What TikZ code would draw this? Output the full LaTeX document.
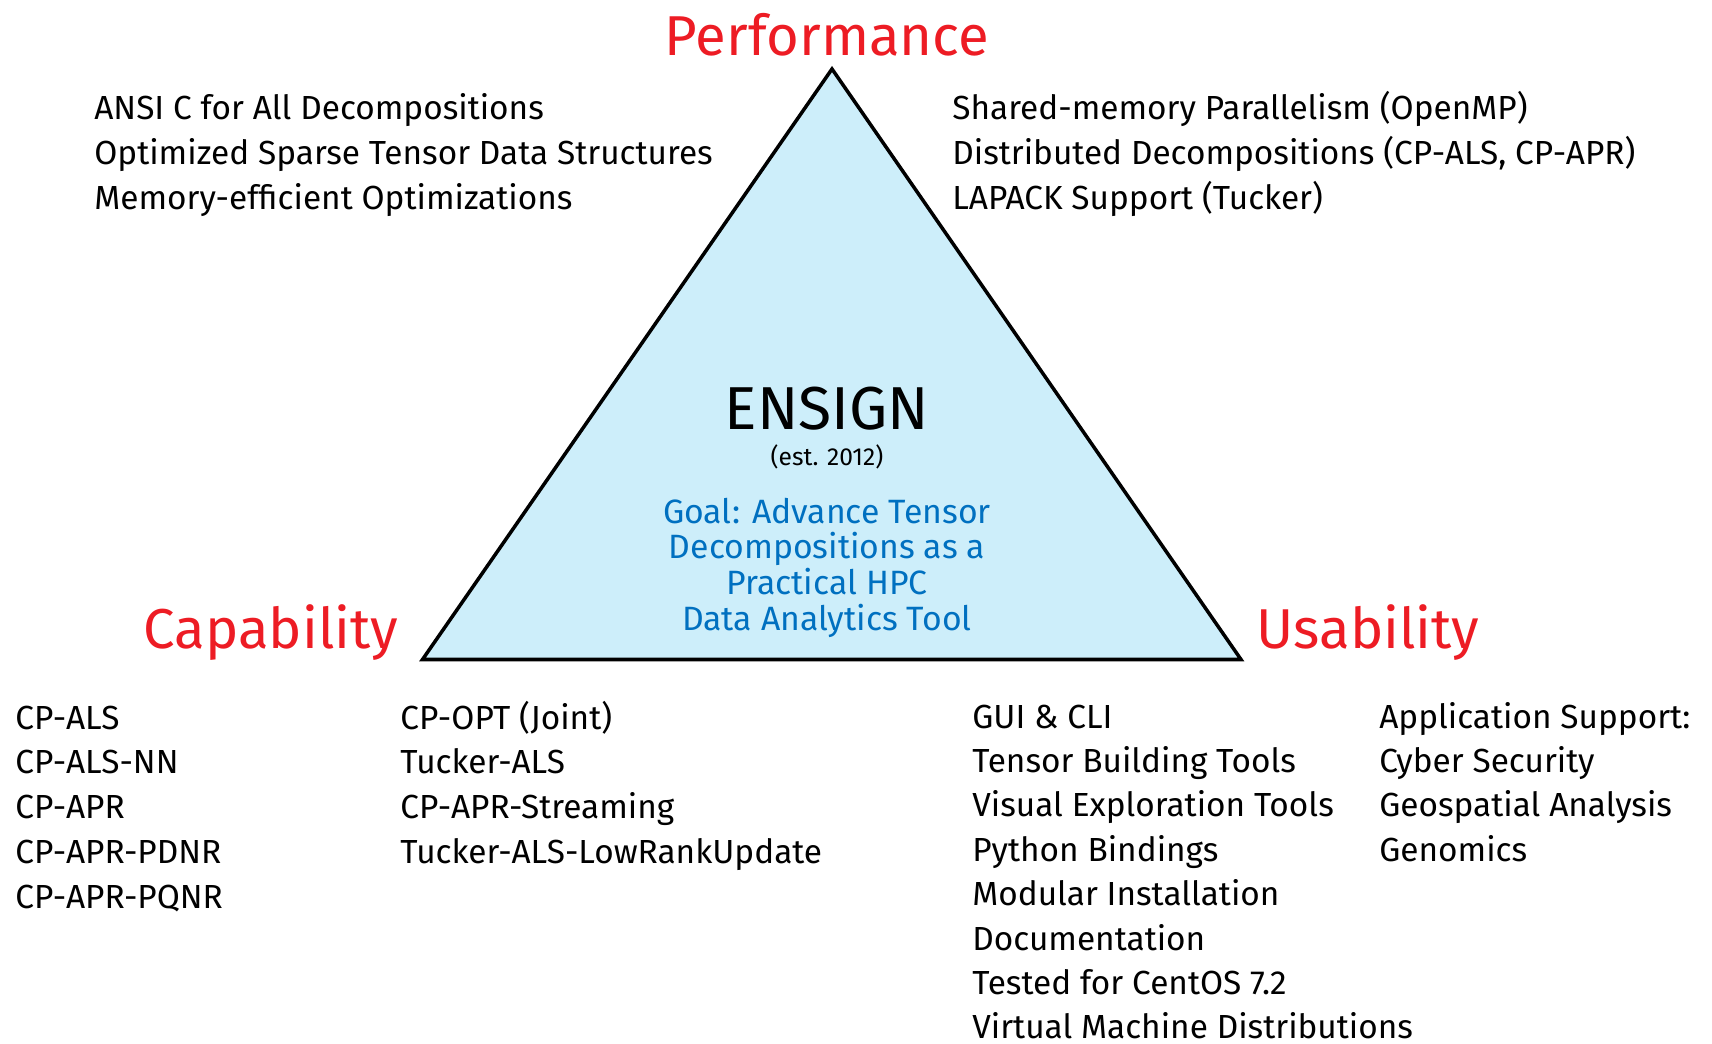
\documentclass[tikz,border=0pt]{standalone}
\usepackage{fontspec}
\setmainfont{Fira Sans}
\usepackage{xcolor}
\definecolor{ensignred}{RGB}{237,28,36}
\definecolor{ensignblue}{RGB}{0,112,192}
\definecolor{trifill}{RGB}{205,238,250}

\begin{document}
\begin{tikzpicture}[x=0.02cm,y=-0.02cm,line join=miter,
    corner/.style={text=ensignred,font=\fontsize{32}{38}\selectfont,inner sep=0pt,anchor=base},
    item/.style={font=\fontsize{19}{22}\selectfont,inner sep=0pt,anchor=base west},
    goal/.style={text=ensignblue,font=\fontsize{19.2}{22}\selectfont,inner sep=0pt,anchor=base}]
        \useasboundingbox (0,0) rectangle (1712,1044);
        % draw the triangle
        \coordinate (top) at (832,69);
        \coordinate (left) at (422.5,659.5);
        \coordinate (right) at (1241,659.5);
        \filldraw[fill=trifill,line width=2pt] (top) -- (left) -- (right) -- cycle;
        % draw the three corner titles
        \node[corner] (perf) at (827,56) {Performance};
        \node[corner] (capab) at (271,648) {Capability};
        \node[corner] (usab) at (1368,648) {Usability};
        % draw the name and goal in the middle
        \node[inner sep=0pt,anchor=base,font=\fontsize{34.5}{40}\selectfont] (ensign) at (827,430) {ENSIGN};
        \node[inner sep=0pt,anchor=base,font=\fontsize{14}{16}\selectfont] (est) at (827,465) {(est. 2012)};
        \foreach \i/\txt in {
            0/Goal: Advance Tensor,
            1/Decompositions as a,
            2/Practical HPC,
            3/Data Analytics Tool}
                \node[goal] (goal\i) at (827,{523+35.7*\i}) {\txt};
        % performance lists, left and right of the top
        \foreach \i/\txt in {
            0/ANSI C for All Decompositions,
            1/Optimized Sparse Tensor Data Structures,
            2/Memory-efficient Optimizations}
                \node[item] (perfL\i) at (94,{120+44.8*\i}) {\txt};
        \foreach \i/\txt in {
            0/Shared-memory Parallelism (OpenMP),
            1/{Distributed Decompositions (CP-ALS, CP-APR)},
            2/LAPACK Support (Tucker)}
                \node[item] (perfR\i) at (952,{120+44.8*\i}) {\txt};
        % capability lists
        \foreach \i/\txt in {
            0/CP-ALS,
            1/CP-ALS-NN,
            2/CP-APR,
            3/CP-APR-PDNR,
            4/CP-APR-PQNR}
                \node[item] (capA\i) at (15,{729+44.8*\i}) {\txt};
        \foreach \i/\txt in {
            0/CP-OPT (Joint),
            1/Tucker-ALS,
            2/CP-APR-Streaming,
            3/Tucker-ALS-LowRankUpdate}
                \node[item] (capB\i) at (400,{729+44.8*\i}) {\txt};
        % usability lists
        \foreach \i/\txt in {
            0/GUI \& CLI,
            1/Tensor Building Tools,
            2/Visual Exploration Tools,
            3/Python Bindings,
            4/Modular Installation,
            5/Documentation,
            6/Tested for CentOS 7.2,
            7/Virtual Machine Distributions}
                \node[item] (useA\i) at (972,{728+44.4*\i}) {\txt};
        \foreach \i/\txt in {
            0/Application Support:,
            1/Cyber Security,
            2/Geospatial Analysis,
            3/Genomics}
                \node[item] (useB\i) at (1379,{728+44.4*\i}) {\txt};
\end{tikzpicture}
\end{document}
